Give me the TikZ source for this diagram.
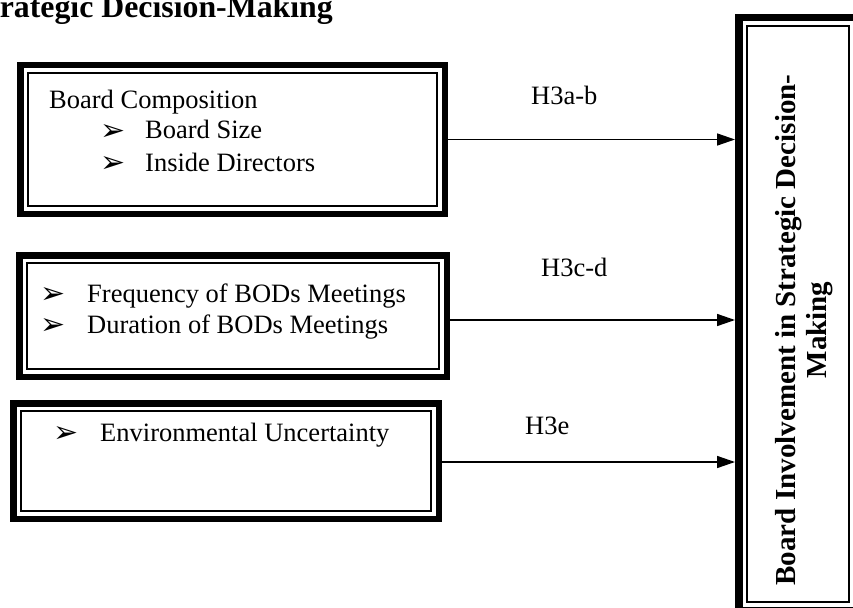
\documentclass[tikz,border=0pt]{standalone}
\usepackage{fontspec}
\setmainfont{Liberation Serif}
\newfontfamily\dejavu{DejaVu Sans}
\usetikzlibrary{arrows.meta}
\newcommand{\bul}{{\dejavu\fontsize{30}{30}\selectfont\raisebox{-1.5pt}{➢}}}
\newcommand{\inframe}[2]{\draw[line width=1.6pt] ([xshift=#2,yshift=-#2]#1.north west) rectangle ([xshift=-#2,yshift=#2]#1.south east);}
\begin{document}
\begin{tikzpicture}[x=1pt,y=-1pt,
  tbox/.style={draw, line width=6.5pt, inner sep=0pt},
  txt/.style={anchor=base west, inner sep=0pt, font=\fontsize{26.5}{31}\selectfont},
  lab/.style={anchor=base west, inner sep=0pt, font=\fontsize{26.5}{31}\selectfont},
  arr/.style={line width=1.5pt, -{Triangle[length=18pt,width=12pt]}}]
\clip (0,0) rectangle (853,607);
\fill[white] (0,0) rectangle (853,607);
% title
\node[anchor=base east, inner sep=0pt, font=\fontsize{31.8}{34}\selectfont\bfseries] (title) at (333,18) {Strategic Decision-Making};
% left boxes
\node[tbox, minimum width=424.5pt, minimum height=148.5pt] (b1) at (232.5,139.5) {};
\inframe{b1}{11pt}
\node[tbox, minimum width=427.5pt, minimum height=121.5pt] (b2) at (233,316) {};
\inframe{b2}{11pt}
\node[tbox, minimum width=425.5pt, minimum height=115.5pt] (b3) at (226,461) {};
\inframe{b3}{11pt}
% right box
\node[draw, line width=7.5pt, inner sep=0pt, minimum width=118.5pt, minimum height=592.5pt] (rb) at (798,314) {};
\inframe{rb}{12pt}
\node[rotate=90, align=center, inner sep=0pt, font=\fontsize{29}{31}\selectfont\bfseries] (rbt) at (804,330) {Board Involvement in Strategic Decision-\\Making};
% texts
\node[txt] (t1) at (49,109) {Board Composition};
\node[txt] (t2) at (100,139) {\makebox[45pt][l]{\bul}Board Size};
\node[txt] (t3) at (100,171) {\makebox[45pt][l]{\bul}Inside Directors};
\node[txt] (t4) at (40,302) {\makebox[47pt][l]{\bul}Frequency of BODs Meetings};
\node[txt] (t5) at (40,333) {\makebox[47pt][l]{\bul}Duration of BODs Meetings};
\node[txt] (t6) at (53,441) {\makebox[47pt][l]{\bul}Environmental Uncertainty};
% labels
\node[lab] (l1) at (531,105) {H3a-b};
\node[lab] (l2) at (541,276) {H3c-d};
\node[lab] (l3) at (525,434) {H3e};
% arrows
\draw[arr] (b1.east) -- (b1.east -| rb.west);
\draw[arr] ([yshift=-4pt]b2.east) -- ([yshift=-4pt]b2.east -| rb.west);
\draw[arr] ([yshift=-1pt]b3.east) -- ([yshift=-1pt]b3.east -| rb.west);
\end{tikzpicture}
\end{document}
